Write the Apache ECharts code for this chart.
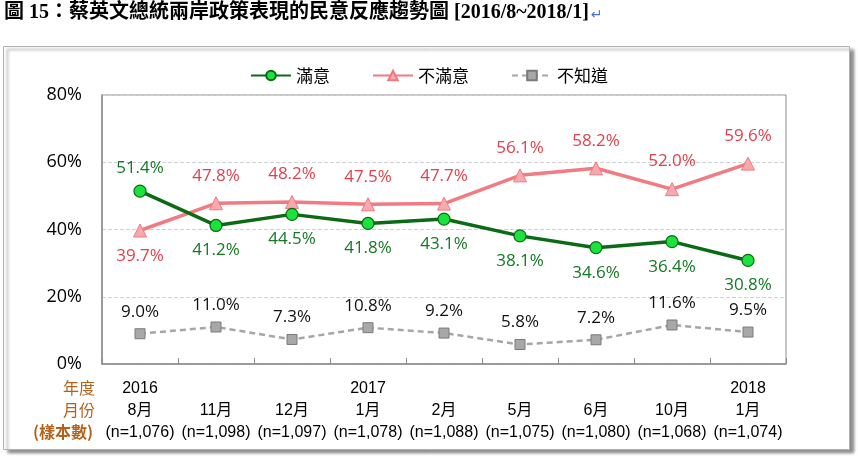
<!DOCTYPE html>
<html><head><meta charset="utf-8">
<script src="https://cdn.jsdelivr.net/npm/echarts@6/dist/echarts.min.js"></script>
<style>html,body{margin:0;padding:0;background:#fff}#c{width:858px;height:456px}</style>
</head><body><div id="c"></div>
<script>
const years = ['2016','','','2017','','','','','2018'];
const months = ['8月','11月','12月','1月','2月','5月','6月','10月','1月'];
const samples = ['(n=1,076)','(n=1,098)','(n=1,097)','(n=1,078)','(n=1,088)','(n=1,075)','(n=1,080)','(n=1,068)','(n=1,074)'];
const satisfied = [51.4,41.2,44.5,41.8,43.1,38.1,34.6,36.4,30.8];
const dissatisfied = [39.7,47.8,48.2,47.5,47.7,56.1,58.2,52.0,59.6];
const unknown = [9.0,11.0,7.3,10.8,9.2,5.8,7.2,11.6,9.5];
const yTicks = [0,20,40,60,80];
const titleText = '圖 15：蔡英文總統兩岸政策表現的民意反應趨勢圖 [2016/8~2018/1]';

const cats = months.map((m,i)=>i);
const chart = echarts.init(document.getElementById('c'));
const lblFont = '"Open Sans","Noto Sans CJK TC",sans-serif';
const xMark = 'path://M0,0H20V20H0Z';
chart.setOption({
  animation:false,
  backgroundColor:'#fff',
  graphic:[
    {type:'rect',shape:{x:3.5,y:46.5,width:846,height:403},style:{fill:'#fff',stroke:'#b0b0b0',lineWidth:1,shadowBlur:3,shadowOffsetX:4,shadowOffsetY:3,shadowColor:'rgba(0,0,0,0.45)'},z:-10},
    {type:'text',left:4,top:3,style:{text:'{t|'+titleText+'}{a|↵}',rich:{
      t:{font:'bold 20px "Liberation Serif","Noto Sans CJK TC",serif',fill:'#000'},
      a:{font:'14px "DejaVu Sans",sans-serif',fill:'#4a73c4',padding:[4,0,0,2]}}}},
    {type:'text',right:763,top:380,style:{text:'年度',font:'16px "Noto Sans CJK TC",sans-serif',fill:'#b3621b',align:'right'}},
    {type:'text',right:763,top:402,style:{text:'月份',font:'16px "Noto Sans CJK TC",sans-serif',fill:'#b3621b',align:'right'}},
    {type:'text',right:765,top:424,style:{text:'(樣本數)',font:'bold 16px "Noto Sans CJK TC",sans-serif',fill:'#b3621b',align:'right'}}
  ],
  legend:{
    top:62,left:'center',itemWidth:40,itemHeight:12,itemGap:42,
    textStyle:{fontSize:17,color:'#000',fontFamily:'"Noto Sans CJK TC",sans-serif'},
    data:['滿意','不滿意','不知道']
  },
  grid:{left:102,right:72,top:95,bottom:92,show:true,borderColor:'#8c8c8c',borderWidth:1},
  xAxis:{
    type:'category',data:cats,boundaryGap:true,
    axisLine:{lineStyle:{color:'#8c8c8c',width:1.5}},
    axisTick:{show:true,inside:true,length:6,lineStyle:{color:'#8c8c8c'}},
    axisLabel:{
      interval:0,margin:14,lineHeight:22,
      formatter:(v,i)=>`${years[i]}\n${months[i]}\n${samples[i]}`,
      fontSize:16,color:'#000',fontFamily:'"Liberation Sans","Noto Sans CJK TC",sans-serif'
    }
  },
  yAxis:{
    type:'value',min:0,max:80,interval:20,
    axisLine:{show:true,lineStyle:{color:'#8c8c8c',width:1.5}},
    axisTick:{show:false},
    splitLine:{show:true,lineStyle:{color:'#d0d0d0',type:'dashed'}},
    axisLabel:{formatter:v=>yTicks.includes(v)?v+'%':'',margin:20,fontSize:18,color:'#000',fontFamily:'"Open Sans",sans-serif'}
  },
  series:[
    {name:'滿意',type:'line',symbol:'circle',symbolSize:12,
     lineStyle:{color:'#0a6b14',width:3.5},
     itemStyle:{color:'#19e33c',borderColor:'#0a6b14',borderWidth:1.2},
     label:{show:true,formatter:p=>p.value.toFixed(1)+'%',fontSize:17,color:'#137a22',fontFamily:lblFont,
       position:'bottom',distance:10},
     data:satisfied.map((v,i)=>i===0?{value:v,label:{position:'top',distance:8}}:v),
     z:3},
    {name:'不滿意',type:'line',symbol:'triangle',symbolSize:13,
     lineStyle:{color:'#f27a82',width:3.5},
     itemStyle:{color:'#f7aaae',borderColor:'#ee7a82',borderWidth:1},
     label:{show:true,formatter:p=>p.value.toFixed(1)+'%',fontSize:17,color:'#e0414f',fontFamily:lblFont,
       position:'top',distance:12},
     data:dissatisfied.map((v,i)=>i===0?{value:v,label:{position:'bottom',distance:10}}:v),
     z:2},
    {name:'不知道',type:'line',data:unknown,symbol:'rect',symbolSize:10,
     lineStyle:{color:'#a6a6a6',width:2.5,type:[6,4]},
     itemStyle:{color:'#a8a8a8',borderColor:'#7a7a7a',borderWidth:1},
     label:{show:true,formatter:p=>p.value.toFixed(1)+'%',fontSize:17,color:'#111',fontFamily:lblFont,
       position:'top',distance:8},
     z:1}
  ]
});
</script></body></html>
